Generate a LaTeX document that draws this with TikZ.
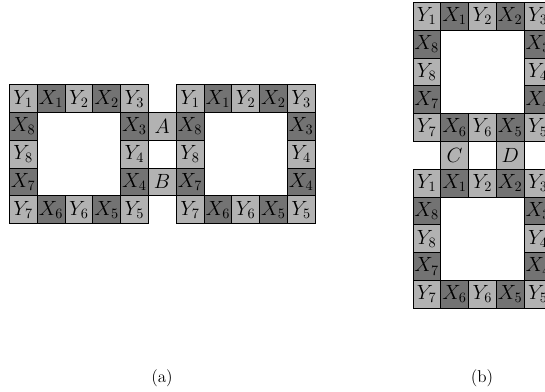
\documentclass[tikz,border=0pt]{standalone}
\tikzset{
  cell/.style={draw=black, line width=0.5pt, minimum size=19.46pt, inner sep=0pt, anchor=north west, font=\Large},
  lt/.style={cell, fill=black!30},
  dk/.style={cell, fill=black!55},
  caption/.style={inner sep=0pt, font=\large}
}
\newcommand\myring[3]{%
  \foreach \i/\j/\s/\t/\n in {0/0/lt/Y_1/y1, 1/0/dk/X_1/x1, 2/0/lt/Y_2/y2, 3/0/dk/X_2/x2, 4/0/lt/Y_3/y3,
    4/1/dk/X_3/x3, 4/2/lt/Y_4/y4, 4/3/dk/X_4/x4, 4/4/lt/Y_5/y5, 3/4/dk/X_5/x5, 2/4/lt/Y_6/y6,
    1/4/dk/X_6/x6, 0/4/lt/Y_7/y7, 0/3/dk/X_7/x7, 0/2/lt/Y_8/y8, 0/1/dk/X_8/x8}
  {\node[\s] (#1\n) at ({#2+27.8*\i},{#3+27.8*\j}) {$\t$};}%
}
\begin{document}
\begin{tikzpicture}[x=0.7pt,y=-0.7pt]
  \path[use as bounding box] (0,0) rectangle (545,392);
  \clip (0,0) rectangle (545,392);
  % (a)
  \myring{ap}{9}{84.3}
  \myring{aq}{175.8}{84.3}
  \node[lt] (A) at (147.8,112.1) {$A$};
  \node[lt] (B) at (147.8,167.7) {$B$};
  \node[caption] (capa) at (162,378) {(a)};
  % (b)
  \myring{bp}{412.5}{2}
  \myring{bq}{412.5}{168.8}
  \node[lt] (C) at (440.3,141) {$C$};
  \node[lt] (D) at (495.9,141) {$D$};
  \node[caption] (capb) at (482,378) {(b)};
\end{tikzpicture}
\end{document}
